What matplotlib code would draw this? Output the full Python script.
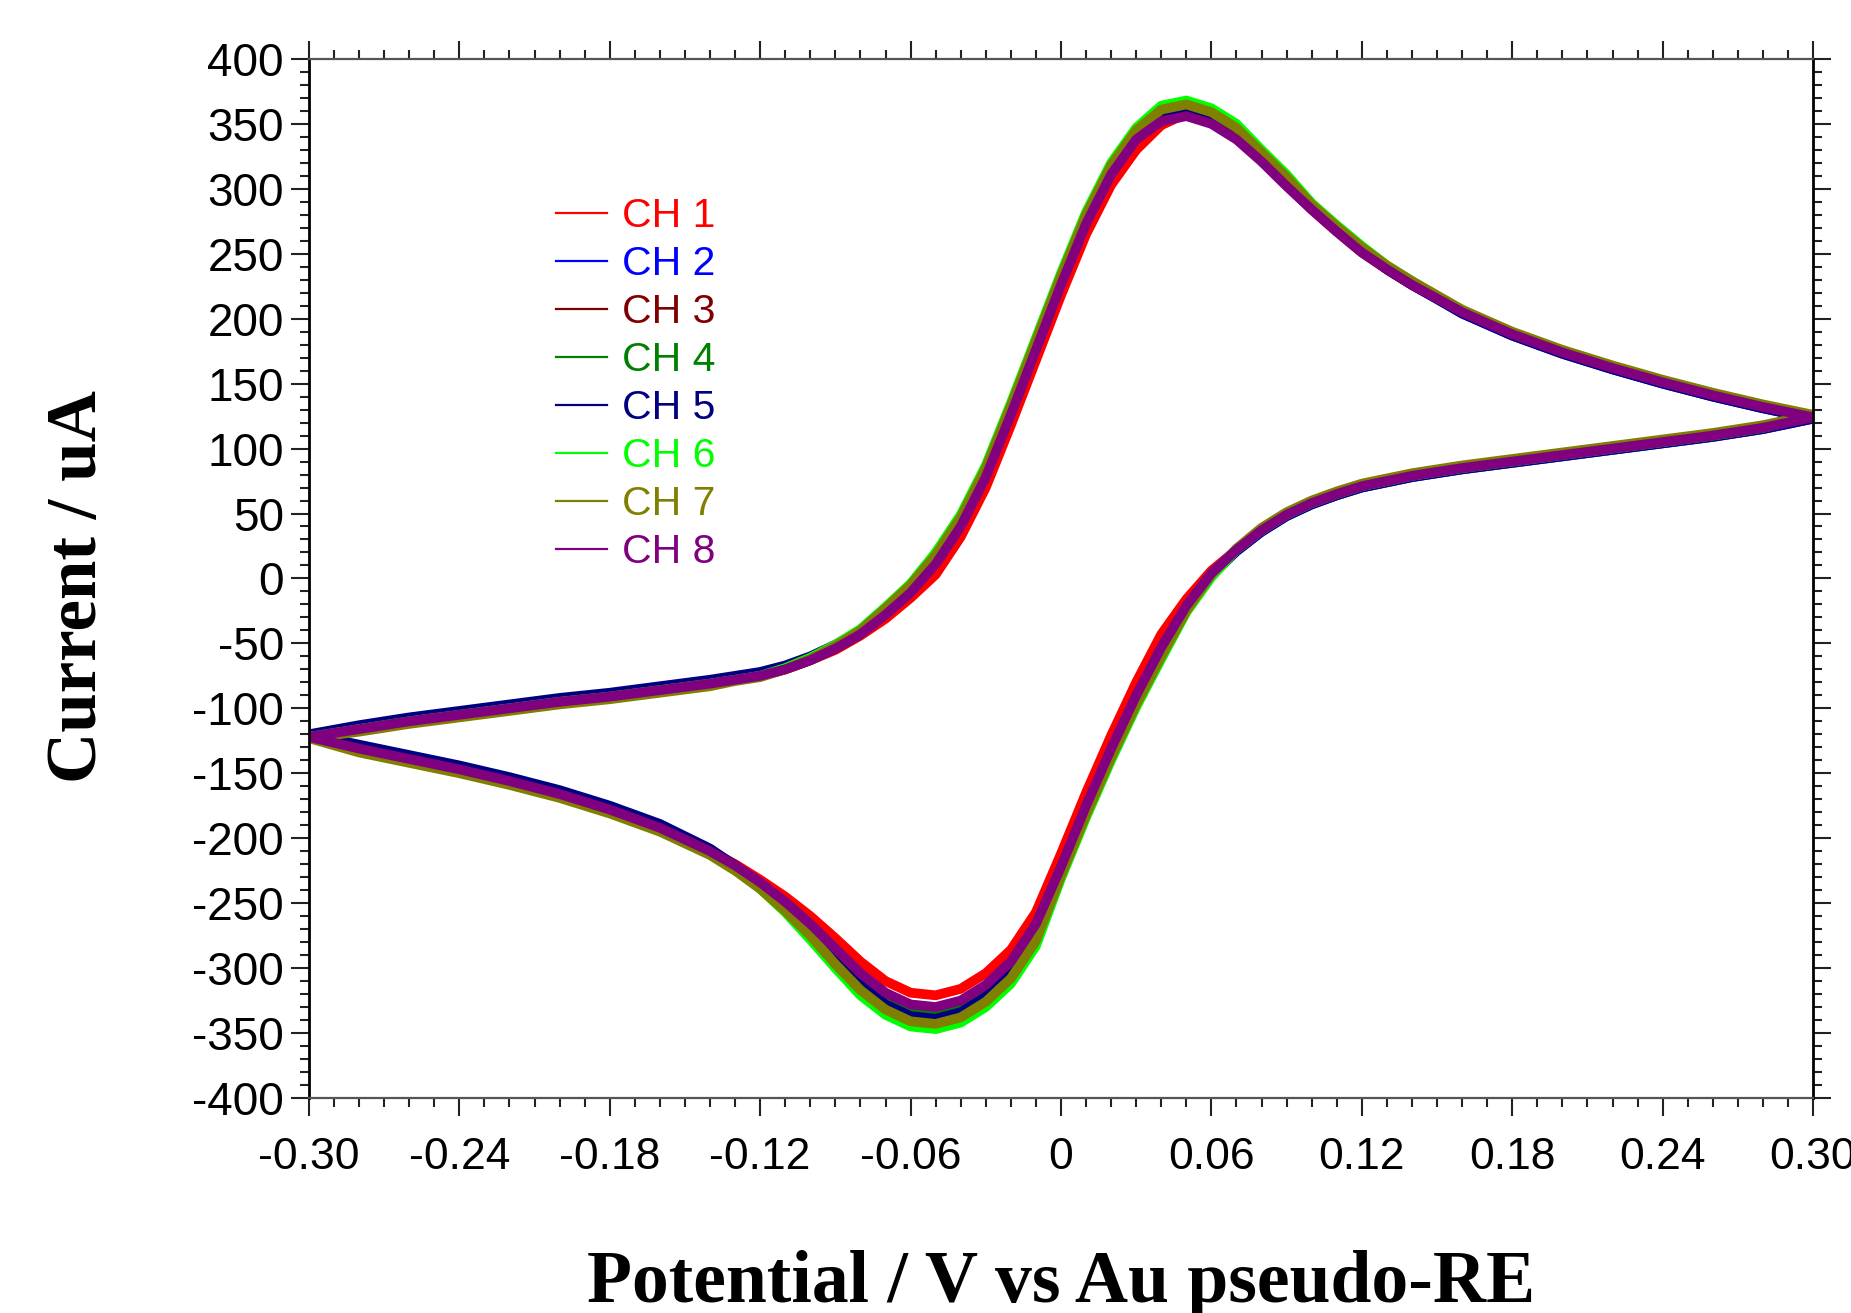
"""
Cyclic voltammograms of 8 channels, Au pseudo reference electrode.
Values read off the original figure.
"""

import numpy as np
import matplotlib
matplotlib.use("Agg")
import matplotlib.pyplot as plt
from matplotlib.lines import Line2D
from matplotlib.ticker import MultipleLocator, FuncFormatter

plt.rcParams["axes.unicode_minus"] = False

# potential grid (V), shared by both sweeps
potential = [-0.30, -0.28, -0.26, -0.24, -0.22, -0.20, -0.18, -0.16, -0.14, -0.13,
             -0.12, -0.11, -0.10, -0.09, -0.08, -0.07, -0.06, -0.05, -0.04, -0.03,
             -0.02, -0.01, 0.00, 0.01, 0.02, 0.03, 0.04, 0.05, 0.06, 0.07,
             0.08, 0.09, 0.10, 0.11, 0.12, 0.13, 0.14, 0.16, 0.18, 0.20,
             0.22, 0.24, 0.26, 0.28, 0.30]

# anodic (forward) sweep currents, uA
fwd_ch1 = [-122, -116, -110, -105, -100, -95, -91, -86, -81, -78, -75, -70, -63, -55, -44,
           -31, -15, 3, 32, 70, 118, 168, 218, 265, 303, 330, 349, 358, 352, 340,
           322, 303, 284, 267, 251, 238, 226, 205, 188, 174, 162, 151, 141, 132, 124]
fwd_ch2 = [-121, -114, -108, -103, -98, -93, -89, -84, -79, -76, -73, -68, -61, -52, -41,
           -25, -8, 15, 44, 82, 130, 180, 230, 277, 315, 342, 358, 362, 356, 344,
           325, 306, 286, 269, 253, 239, 227, 204, 187, 173, 161, 150, 140, 131, 123]
fwd_ch3 = [-122, -116, -110, -105, -100, -95, -91, -86, -81, -78, -75, -70, -63, -54, -43,
           -27, -10, 13, 42, 80, 128, 178, 228, 275, 313, 340, 356, 360, 354, 342,
           324, 305, 285, 268, 252, 238, 226, 205, 188, 174, 162, 151, 141, 132, 124]
fwd_ch4 = [-121, -115, -109, -104, -99, -94, -90, -85, -80, -77, -74, -69, -62, -53, -42,
           -26, -9, 15, 44, 82, 130, 180, 230, 277, 315, 342, 357, 361, 355, 343,
           325, 306, 286, 269, 253, 239, 227, 206, 189, 175, 163, 152, 142, 133, 125]
fwd_ch5 = [-120, -113, -107, -102, -97, -92, -88, -83, -78, -75, -72, -67, -60, -51, -40,
           -24, -7, 16, 45, 83, 131, 181, 231, 278, 316, 343, 357, 361, 355, 343,
           325, 306, 286, 269, 253, 238, 226, 204, 187, 173, 161, 150, 140, 131, 123]
fwd_ch6 = [-122, -116, -110, -105, -100, -95, -91, -86, -81, -78, -75, -69, -61, -51, -39,
           -22, -4, 20, 49, 87, 135, 185, 235, 282, 320, 347, 364, 368, 362, 350,
           330, 311, 289, 272, 256, 241, 229, 206, 189, 175, 163, 152, 142, 133, 125]
fwd_ch7 = [-123, -118, -112, -107, -102, -97, -93, -88, -83, -79, -76, -70, -62, -52, -40,
           -23, -5, 18, 47, 85, 133, 183, 233, 280, 318, 345, 361, 365, 359, 347,
           328, 309, 288, 271, 255, 241, 229, 207, 190, 176, 164, 153, 143, 134, 126]
fwd_ch8 = [-122, -116, -110, -105, -100, -95, -91, -86, -81, -78, -75, -70, -63, -54, -43,
           -28, -11, 11, 40, 78, 126, 176, 226, 273, 311, 338, 352, 356, 350, 338,
           321, 302, 284, 267, 251, 238, 226, 205, 188, 174, 162, 151, 141, 132, 124]

# cathodic (reverse) sweep currents, uA, listed on the same ascending grid
rev_ch1 = [-122, -131, -139, -147, -156, -166, -178, -192, -210, -220, -232, -245, -260, -277, -295,
           -310, -319, -321, -316, -304, -286, -257, -212, -165, -121, -80, -43, -16, 6, 22,
           37, 49, 58, 65, 71, 75, 79, 85, 90, 95, 100, 105, 110, 116, 124]
rev_ch2 = [-121, -129, -137, -145, -154, -164, -176, -190, -209, -222, -236, -252, -271, -291, -311,
           -326, -335, -337, -332, -320, -302, -273, -226, -179, -135, -94, -57, -23, 3, 21,
           36, 48, 57, 64, 70, 74, 78, 84, 89, 94, 99, 104, 109, 115, 123]
rev_ch3 = [-122, -131, -139, -147, -156, -166, -178, -192, -210, -222, -236, -252, -270, -290, -310,
           -325, -334, -336, -331, -319, -301, -272, -226, -179, -135, -94, -57, -23, 3, 22,
           37, 49, 58, 65, 71, 75, 79, 85, 90, 95, 100, 105, 110, 116, 124]
rev_ch4 = [-122, -130, -138, -146, -155, -165, -177, -191, -209, -221, -235, -250, -268, -288, -307,
           -322, -331, -333, -328, -316, -298, -269, -224, -177, -133, -92, -55, -22, 4, 22,
           37, 49, 58, 65, 71, 75, 79, 85, 90, 95, 100, 105, 110, 116, 124]
rev_ch5 = [-120, -128, -136, -144, -153, -163, -175, -189, -208, -221, -235, -253, -272, -293, -313,
           -328, -337, -339, -334, -322, -304, -275, -227, -180, -136, -95, -58, -24, 2, 21,
           36, 48, 57, 64, 70, 74, 78, 84, 89, 94, 99, 104, 109, 115, 123]
rev_ch6 = [-122, -132, -140, -148, -157, -167, -179, -193, -211, -224, -239, -257, -278, -300, -321,
           -336, -345, -347, -342, -330, -312, -283, -231, -184, -140, -99, -62, -26, 1, 22,
           37, 49, 58, 65, 71, 75, 79, 85, 90, 95, 100, 105, 110, 116, 125]
rev_ch7 = [-123, -134, -142, -150, -159, -169, -181, -195, -213, -225, -239, -256, -275, -297, -317,
           -332, -341, -343, -338, -326, -308, -279, -229, -182, -138, -97, -60, -25, 3, 23,
           39, 51, 60, 67, 73, 77, 81, 87, 92, 97, 102, 107, 112, 118, 126]
rev_ch8 = [-122, -131, -139, -147, -156, -166, -178, -192, -210, -221, -234, -249, -266, -285, -304,
           -319, -328, -330, -325, -313, -295, -266, -222, -175, -131, -90, -53, -21, 4, 22,
           37, 49, 58, 65, 71, 75, 79, 85, 90, 95, 100, 105, 110, 116, 124]

labels = ["CH 1", "CH 2", "CH 3", "CH 4", "CH 5", "CH 6", "CH 7", "CH 8"]
colors = ["#ff0000", "#0000ff", "#800000", "#008000", "#000080", "#00ff00", "#808000", "#800080"]
fwd_all = [fwd_ch1, fwd_ch2, fwd_ch3, fwd_ch4, fwd_ch5, fwd_ch6, fwd_ch7, fwd_ch8]
rev_all = [rev_ch1, rev_ch2, rev_ch3, rev_ch4, rev_ch5, rev_ch6, rev_ch7, rev_ch8]

fig = plt.figure(figsize=(18.51, 13.13), dpi=100)
ax = fig.add_axes([0.1669, 0.1638, 0.8126, 0.7913])

E = np.array(potential)
for fwd, rev, col in zip(fwd_all, rev_all, colors):
    x = np.concatenate([E, E[::-1]])
    y = np.concatenate([np.array(fwd), np.array(rev)[::-1]])
    ax.plot(x, y, color=col, lw=7, solid_joinstyle="round", solid_capstyle="round")

ax.set_xlim(-0.30, 0.30)
ax.set_ylim(-400, 400)

ax.xaxis.set_major_locator(MultipleLocator(0.06))
ax.xaxis.set_minor_locator(MultipleLocator(0.01))
ax.yaxis.set_major_locator(MultipleLocator(50))
ax.yaxis.set_minor_locator(MultipleLocator(10))


def fmt_x(v, pos):
    if abs(v) < 1e-9:
        return "0"
    return f"{v:.2f}"


ax.xaxis.set_major_formatter(FuncFormatter(fmt_x))
ax.yaxis.set_major_formatter(FuncFormatter(lambda v, pos: f"{int(round(v))}"))

ax.tick_params(which="both", direction="out", top=True, right=True, color="#222222", width=1.5)
ax.tick_params(which="major", length=13)
ax.tick_params(which="minor", length=6.5)
ax.tick_params(axis="x", pad=15)
ax.tick_params(axis="y", pad=5)
for lab in ax.get_xticklabels():
    lab.set_family("Liberation Sans")
    lab.set_fontsize(32)
for lab in ax.get_yticklabels():
    lab.set_family("Liberation Sans")
    lab.set_fontsize(33)

for side in ["left", "right"]:
    ax.spines[side].set_color("black")
    ax.spines[side].set_linewidth(2.0)
for side in ["top", "bottom"]:
    ax.spines[side].set_color("#555555")
    ax.spines[side].set_linewidth(1.6)

handles = [Line2D([], [], color=c, lw=1.6) for c in colors]
leg = ax.legend(handles, labels, loc="upper left", bbox_to_anchor=(0.164, 0.867),
                frameon=False, borderpad=0, borderaxespad=0, handlelength=1.25,
                handletextpad=0.38, labelspacing=0.245, labelcolor="linecolor",
                prop={"family": "Liberation Sans", "size": 29.5})

fig.text(0.5732, 0.0084, "Potential / V vs Au pseudo-RE", ha="center", va="baseline",
         family="Liberation Serif", weight="bold", fontsize=53)
fig.text(0.0425, 0.553, "Current / uA", ha="center", va="center", rotation=90,
         family="Liberation Serif", weight="bold", fontsize=51)

fig.savefig("out.png", dpi=100)
